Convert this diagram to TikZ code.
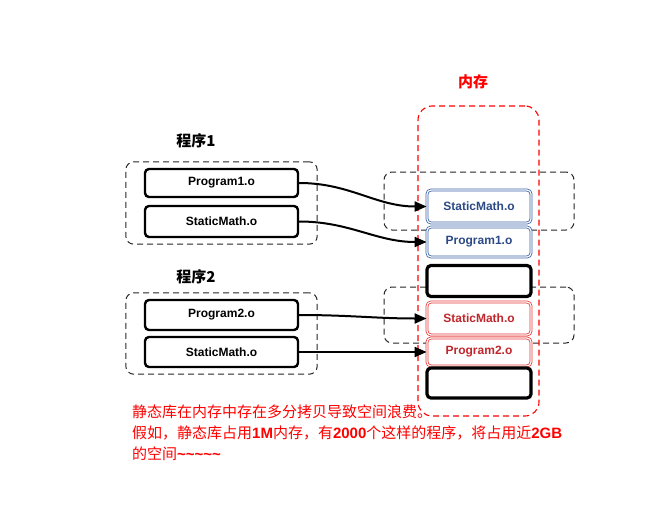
\documentclass[tikz,border=0pt]{standalone}
\usepackage{fontspec}
\setmainfont{Liberation Sans}
\newfontfamily\cjk{Noto Sans CJK SC}
\usepackage{tikz}
\usetikzlibrary{positioning, calc, fit, arrows.meta}

\definecolor{memblue}{HTML}{3A62A8}
\definecolor{membluetext}{HTML}{2B4A86}
\definecolor{memred}{HTML}{E83A3A}
\definecolor{memredtext}{HTML}{C0262B}
\newcommand{\latbold}[1]{{\normalfont\bfseries #1}}

\begin{document}
\begin{tikzpicture}[x=1pt, y=-1pt,
  objbox/.style={draw=black, line width=2.4pt, rounded corners=4pt, fill=white, minimum width=153pt, inner sep=0pt, font=\fontsize{12}{14}\selectfont\bfseries},
  membox/.style={draw=black, line width=3.2pt, rounded corners=4pt, fill=white, minimum width=104pt, inner sep=0pt, font=\fontsize{12}{14}\selectfont\bfseries},
  bluebox/.style={membox, draw=memblue, line width=0.8pt, double=white, double distance=1.2pt, text=membluetext},
  redbox/.style={membox, draw=memred, line width=0.8pt, double=white, double distance=1.2pt, text=memredtext},
  group/.style={draw=black!85, line width=1pt, dash pattern=on 6pt off 4pt, rounded corners=8pt, inner sep=0pt},
  title/.style={font=\cjk\bfseries\fontsize{15}{18}\selectfont},
  link/.style={-{Triangle[length=12pt,width=10pt]}, line width=2pt}
]
\useasboundingbox[fill=white] (0,0) rectangle (664,519);

% right hand groups and memory
\node[group, minimum width=190pt, minimum height=58pt] (share1) at (479,201) {};
\node[group, minimum width=190pt, minimum height=56pt] (share2) at (479,315) {};
\node[group, draw=red, line width=1.1pt, minimum width=121pt, minimum height=310pt, rounded corners=14pt] (mem) at (478.5,261) {};
\node[title, text=red] (memlabel) at (473,82) {内存};

% programs
\node[objbox, minimum height=28pt] (prog1) at (221.5,183) {Program1.o};
\node[objbox, minimum height=31pt] (math1) at (221.5,221.5) {StaticMath.o};
\node[objbox, minimum height=30pt] (prog2) at (221.5,315) {Program2.o};
\node[objbox, minimum height=30pt] (math2) at (221.5,352) {StaticMath.o};
\node[group, fit=(prog1)(math1), inner xsep=18pt, inner ysep=6pt] (grp1) {};
\node[group, fit=(prog2)(math2), inner xsep=18pt, inner ysep=6pt] (grp2) {};
\node[title] (label1) at (196,141) {程序1};
\node[title] (label2) at (196,277) {程序2};

% memory blocks
\node[bluebox, minimum height=33pt] (mmath1) at (479,206.5) {StaticMath.o};
\node[bluebox, minimum height=30pt] (mprog1) at (479,242) {Program1.o};
\node[membox, minimum height=31pt] (free1) at (479,281) {};
\node[redbox, minimum height=33pt] (mmath2) at (479,318.5) {StaticMath.o};
\node[redbox, minimum height=28pt] (mprog2) at (479,352) {Program2.o};
\node[membox, minimum height=30pt] (free2) at (479,383) {};

\draw[link] (prog1.east) to[out=0, in=180] (mmath1.west);
\draw[link] (math1.east) to[out=0, in=180] (mprog1.west);
\draw[link] (prog2.east) to[out=0, in=180] (mmath2.west);
\draw[link] (math2.east) -- (mprog2.west);

\node[anchor=north west, inner sep=0pt, text=red, align=left, font=\cjk\fontsize{15}{21}\selectfont] (note) at (132,405) {静态库在内存中存在多分拷贝导致空间浪费。\\
假如，静态库占用\latbold{1M}内存，有\latbold{2000}个这样的程序，将占用近\latbold{2GB}\\
的空间\latbold{\string~\string~\string~\string~\string~}};
\end{tikzpicture}
\end{document}
